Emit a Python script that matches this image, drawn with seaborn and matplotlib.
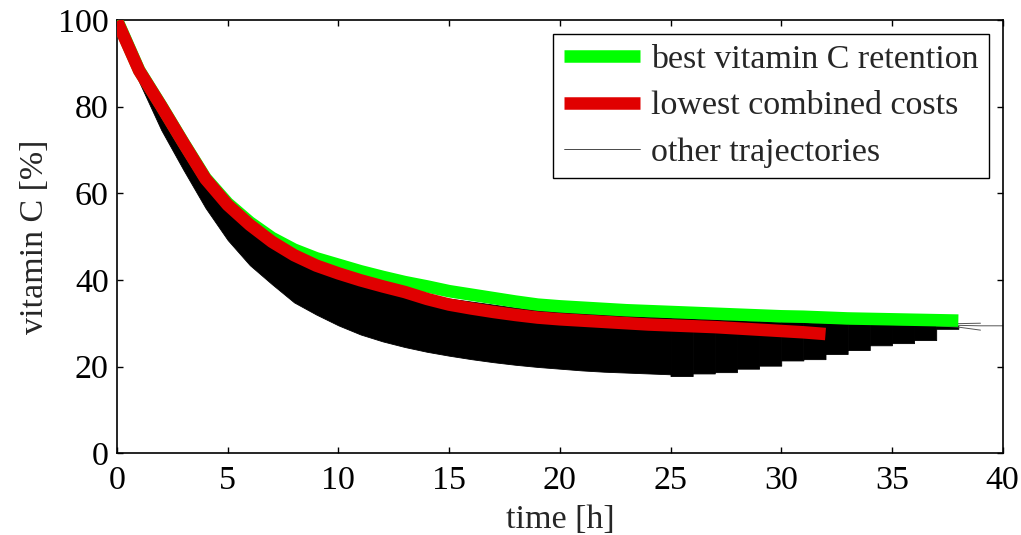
import matplotlib
matplotlib.use("Agg")
import matplotlib.pyplot as plt
import numpy as np
import pandas as pd
import seaborn as sns
from matplotlib.lines import Line2D

# ---------------- data ----------------
hours = list(range(41))

best_retention = [100, 88.4, 80.2, 71.7, 63.5, 57.7, 53.3, 49.7, 47.0, 45.0,
                  43.5, 42.0, 40.7, 39.5, 38.5, 37.4, 36.6, 35.8, 35.0, 34.3,
                  33.9, 33.6, 33.3, 33.0, 32.8, 32.6, 32.4, 32.2, 32.0, 31.8,
                  31.6, 31.5, 31.3, 31.1, 31.0, 30.9, 30.8, 30.7, 30.6]

lowest_cost = [99.8, 88.3, 80.1, 71.6, 63.3, 57.3, 52.7, 48.8, 45.7, 43.3,
               41.5, 39.9, 38.5, 37.2, 35.6, 34.3, 33.4, 32.6, 31.9, 31.3,
               30.9, 30.6, 30.3, 30.0, 29.7, 29.5, 29.3, 29.1, 28.8, 28.5,
               28.2, 27.9, 27.5]

# envelope of the other trajectories
others_upper = [100, 88.0, 79.6, 71.0, 62.6, 56.6, 52.0, 48.2, 45.2, 43.0,
                41.3, 39.8, 38.6, 37.5, 36.6, 35.7, 35.0, 34.3, 33.6, 33.0,
                32.6, 32.3, 32.0, 31.7, 31.5, 31.3, 31.1, 30.9, 30.7, 30.5,
                30.3, 30.2, 30.0, 29.9, 29.8, 29.7, 29.6, 29.5, 29.4]
others_lower = [100, 85.7, 74.6, 65.4, 56.6, 49.2, 43.4, 39.0, 34.8, 32.0,
                29.5, 27.4, 25.8, 24.5, 23.4, 22.5, 21.7, 21.0, 20.4, 19.9,
                19.5, 19.1, 18.8, 18.6, 18.4, 18.2]

# trajectories ending at a given hour: lowest final value of each group
end_hours = [26, 27, 28, 29, 30, 31, 32, 33, 34, 35, 36, 37, 38]
end_floor = [17.8, 18.4, 18.7, 19.5, 20.2, 21.4, 21.7, 22.9, 23.8, 24.9,
             25.4, 26.1, 28.7]

# the few longest trajectories
tail_a_hours = [37, 38, 39, 40]
tail_a_vals = [29.7, 29.5, 29.4, 29.4]
tail_b_hours = [37, 38, 39]
tail_b_vals = [29.4, 29.1, 28.4]
tail_c_hours = [37, 38, 39]
tail_c_vals = [29.9, 29.9, 30.0]

x_ticks = [0, 5, 10, 15, 20, 25, 30, 35, 40]
y_ticks = [0, 20, 40, 60, 80, 100]

labels = ["best vitamin C retention", "lowest combined costs", "other trajectories"]
GREEN = "#00ff00"
RED = "#e00000"

# ---------------- style ----------------
sns.set_style("white")
plt.rcParams["font.family"] = ["Liberation Serif", "DejaVu Serif"]
FS = 24.5
LW = 9

fig, ax = plt.subplots(figsize=(10.21, 5.35), dpi=100)
fig.subplots_adjust(left=0.1146, right=0.982, bottom=0.153, top=0.9626)

# ---------------- other trajectories (black band) ----------------
n_main = len(others_lower)
ax.fill_between(hours[:n_main], others_lower, others_upper[:n_main],
                color="black", lw=0.6, edgecolor="black", zorder=1)
for T, fl in zip(end_hours, end_floor):
    ax.fill_between([T - 1, T], [fl, fl], [others_upper[T - 1], others_upper[T]],
                    color="black", lw=0.6, edgecolor="black", zorder=1)
for th, tv in [(tail_a_hours, tail_a_vals), (tail_b_hours, tail_b_vals),
               (tail_c_hours, tail_c_vals)]:
    sns.lineplot(x=th, y=tv, ax=ax, color="#555555", lw=0.7,
                 estimator=None, sort=False, zorder=1)

# ---------------- highlighted trajectories ----------------
df_best = pd.DataFrame({"t": hours[:len(best_retention)], "v": best_retention})
df_cost = pd.DataFrame({"t": hours[:len(lowest_cost)], "v": lowest_cost})
sns.lineplot(data=df_best, x="t", y="v", ax=ax, color=GREEN, lw=LW,
             estimator=None, sort=False, zorder=3,
             solid_capstyle="butt", solid_joinstyle="round")
sns.lineplot(data=df_cost, x="t", y="v", ax=ax, color=RED, lw=LW,
             estimator=None, sort=False, zorder=4,
             solid_capstyle="butt", solid_joinstyle="round")

# ---------------- axes ----------------
ax.set_xlim(0, 40)
ax.set_ylim(0, 100)
ax.set_xticks(x_ticks)
ax.set_yticks(y_ticks)
ax.set_xticklabels([str(v) for v in x_ticks], fontsize=FS)
ax.set_yticklabels([str(v) for v in y_ticks], fontsize=FS)
ax.tick_params(direction="in", length=4, width=1, top=True, right=True,
               bottom=True, left=True, colors="black")
ax.tick_params(axis="x", pad=9)
ax.tick_params(axis="y", pad=6)
ax.set_xlabel("time [h]", fontsize=FS, labelpad=6)
ax.set_ylabel("vitamin C [%]", fontsize=FS, labelpad=6)
for s in ax.spines.values():
    s.set_visible(True)
    s.set_color("black")
    s.set_linewidth(1.2)
ax.grid(False)

handles = [Line2D([], [], color=GREEN, lw=LW, solid_capstyle="butt"),
           Line2D([], [], color=RED, lw=LW, solid_capstyle="butt"),
           Line2D([], [], color="black", lw=0.5)]
leg = ax.legend(handles, labels, loc="upper right", fontsize=FS,
                frameon=True, fancybox=False, framealpha=1,
                edgecolor="black", handlelength=2.25, handletextpad=0.3,
                labelspacing=0.45, borderpad=0.32, borderaxespad=0.4)
leg.get_frame().set_linewidth(1.0)
leg.set_zorder(10)

fig.savefig("out.png", dpi=100)
